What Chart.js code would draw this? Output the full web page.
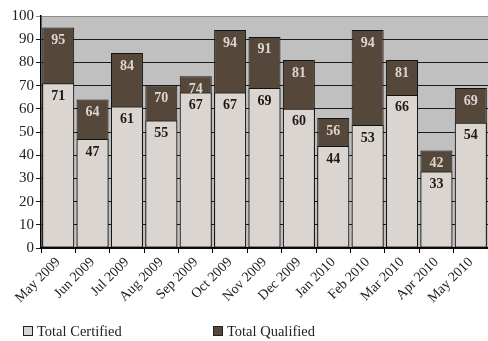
<!DOCTYPE html>
<html>
<head>
<meta charset="utf-8">
<script src="https://cdn.jsdelivr.net/npm/chart.js@4/dist/chart.umd.min.js"></script>
<style>
  html, body { margin: 0; padding: 0; background: #fff; }
  #wrap { width: 488px; height: 341px; position: relative; }
</style>
</head>
<body>
<div id="wrap"><canvas id="c" width="488" height="341"></canvas></div>
<script>
const months = ['May 2009','Jun 2009','Jul 2009','Aug 2009','Sep 2009','Oct 2009','Nov 2009',
                'Dec 2009','Jan 2010','Feb 2010','Mar 2010','Apr 2010','May 2010'];
const totalCertified = [71, 47, 61, 55, 67, 67, 69, 60, 44, 53, 66, 33, 54];
const totalQualified = [95, 64, 84, 70, 74, 94, 91, 81, 56, 94, 81, 42, 69];

const LIGHT = '#dbd5d1';
const DARK = '#554739';
const SERIF = '"Liberation Serif", "DejaVu Serif", serif';

// grey plot background
const plotBg = {
  id: 'plotBg',
  beforeDraw(chart) {
    const a = chart.chartArea, ctx = chart.ctx;
    ctx.save();
    ctx.fillStyle = '#c0c0c0';
    ctx.fillRect(a.left, a.top, a.right - a.left, a.bottom - a.top);
    ctx.restore();
  }
};

// value labels just inside the top of each bar
const valueLabels = {
  id: 'valueLabels',
  afterDatasetsDraw(chart) {
    const ctx = chart.ctx;
    ctx.save();
    ctx.font = 'bold 14px ' + SERIF;
    ctx.textAlign = 'center';
    ctx.textBaseline = 'middle';
    const colors = ['#1e1a17', '#dcd6d2'];
    chart.data.datasets.forEach((ds, di) => {
      const meta = chart.getDatasetMeta(di);
      meta.data.forEach((bar, i) => {
        ctx.fillStyle = colors[di];
        ctx.fillText(String(ds.data[i]), bar.x, bar.y + 13);
      });
    });
    ctx.restore();
  }
};

// legend drawn under the axis labels
const bottomLegend = {
  id: 'bottomLegend',
  afterDraw(chart) {
    const ctx = chart.ctx;
    const xs = [23, 213];
    const y = 331;
    ctx.save();
    ctx.font = '14.5px ' + SERIF;
    ctx.textBaseline = 'middle';
    ctx.textAlign = 'left';
    chart.data.datasets.forEach((ds, i) => {
      ctx.fillStyle = ds.backgroundColor;
      ctx.fillRect(xs[i] + 0.5, y - 4.5, 9, 9);
      ctx.strokeStyle = '#222';
      ctx.lineWidth = 1;
      ctx.strokeRect(xs[i] + 0.5, y - 4.5, 9, 9);
      ctx.fillStyle = '#222';
      ctx.fillText(ds.label, xs[i] + 14, y + 1);
    });
    ctx.restore();
  }
};

new Chart(document.getElementById('c'), {
  type: 'bar',
  data: {
    labels: months,
    datasets: [
      { label: 'Total Certified', data: totalCertified, backgroundColor: LIGHT,
        borderColor: '#111', borderWidth: 1, borderSkipped: false,
        categoryPercentage: 1, barPercentage: 0.93 },
      { label: 'Total Qualified', data: totalQualified, backgroundColor: DARK,
        borderColor: '#111', borderWidth: 1, borderSkipped: false,
        categoryPercentage: 1, barPercentage: 0.93 }
    ]
  },
  options: {
    responsive: false,
    animation: false,
    devicePixelRatio: 1,
    layout: { padding: { top: 16, right: 0, left: 0, bottom: 0 } },
    plugins: {
      legend: { display: false },
      tooltip: { enabled: false }
    },
    scales: {
      x: {
        stacked: true,
        offset: true,
        grid: { offset: true, drawOnChartArea: false, color: '#000', tickLength: 5, lineWidth: 1 },
        border: { color: '#000', width: 1.5 },
        ticks: {
          maxRotation: 45, minRotation: 45, autoSkip: false,
          color: '#222', padding: 1,
          font: { family: SERIF, size: 14 }
        },
        afterFit(s) { s.height = 93; }
      },
      y: {
        stacked: false,
        min: 0, max: 100,
        grid: {
          color: (c) => (c.tick && c.tick.value === 100 ? '#8c8c8c' : '#1a1a1a'),
          lineWidth: 1, tickLength: 5, drawTicks: true
        },
        border: { color: '#000', width: 1.5 },
        ticks: {
          stepSize: 10, color: '#222', padding: 2,
          font: { family: SERIF, size: 15 }
        },
        afterFit(s) { s.width = 41; }
      }
    }
  },
  plugins: [plotBg, valueLabels, bottomLegend]
});
</script>
</body>
</html>
